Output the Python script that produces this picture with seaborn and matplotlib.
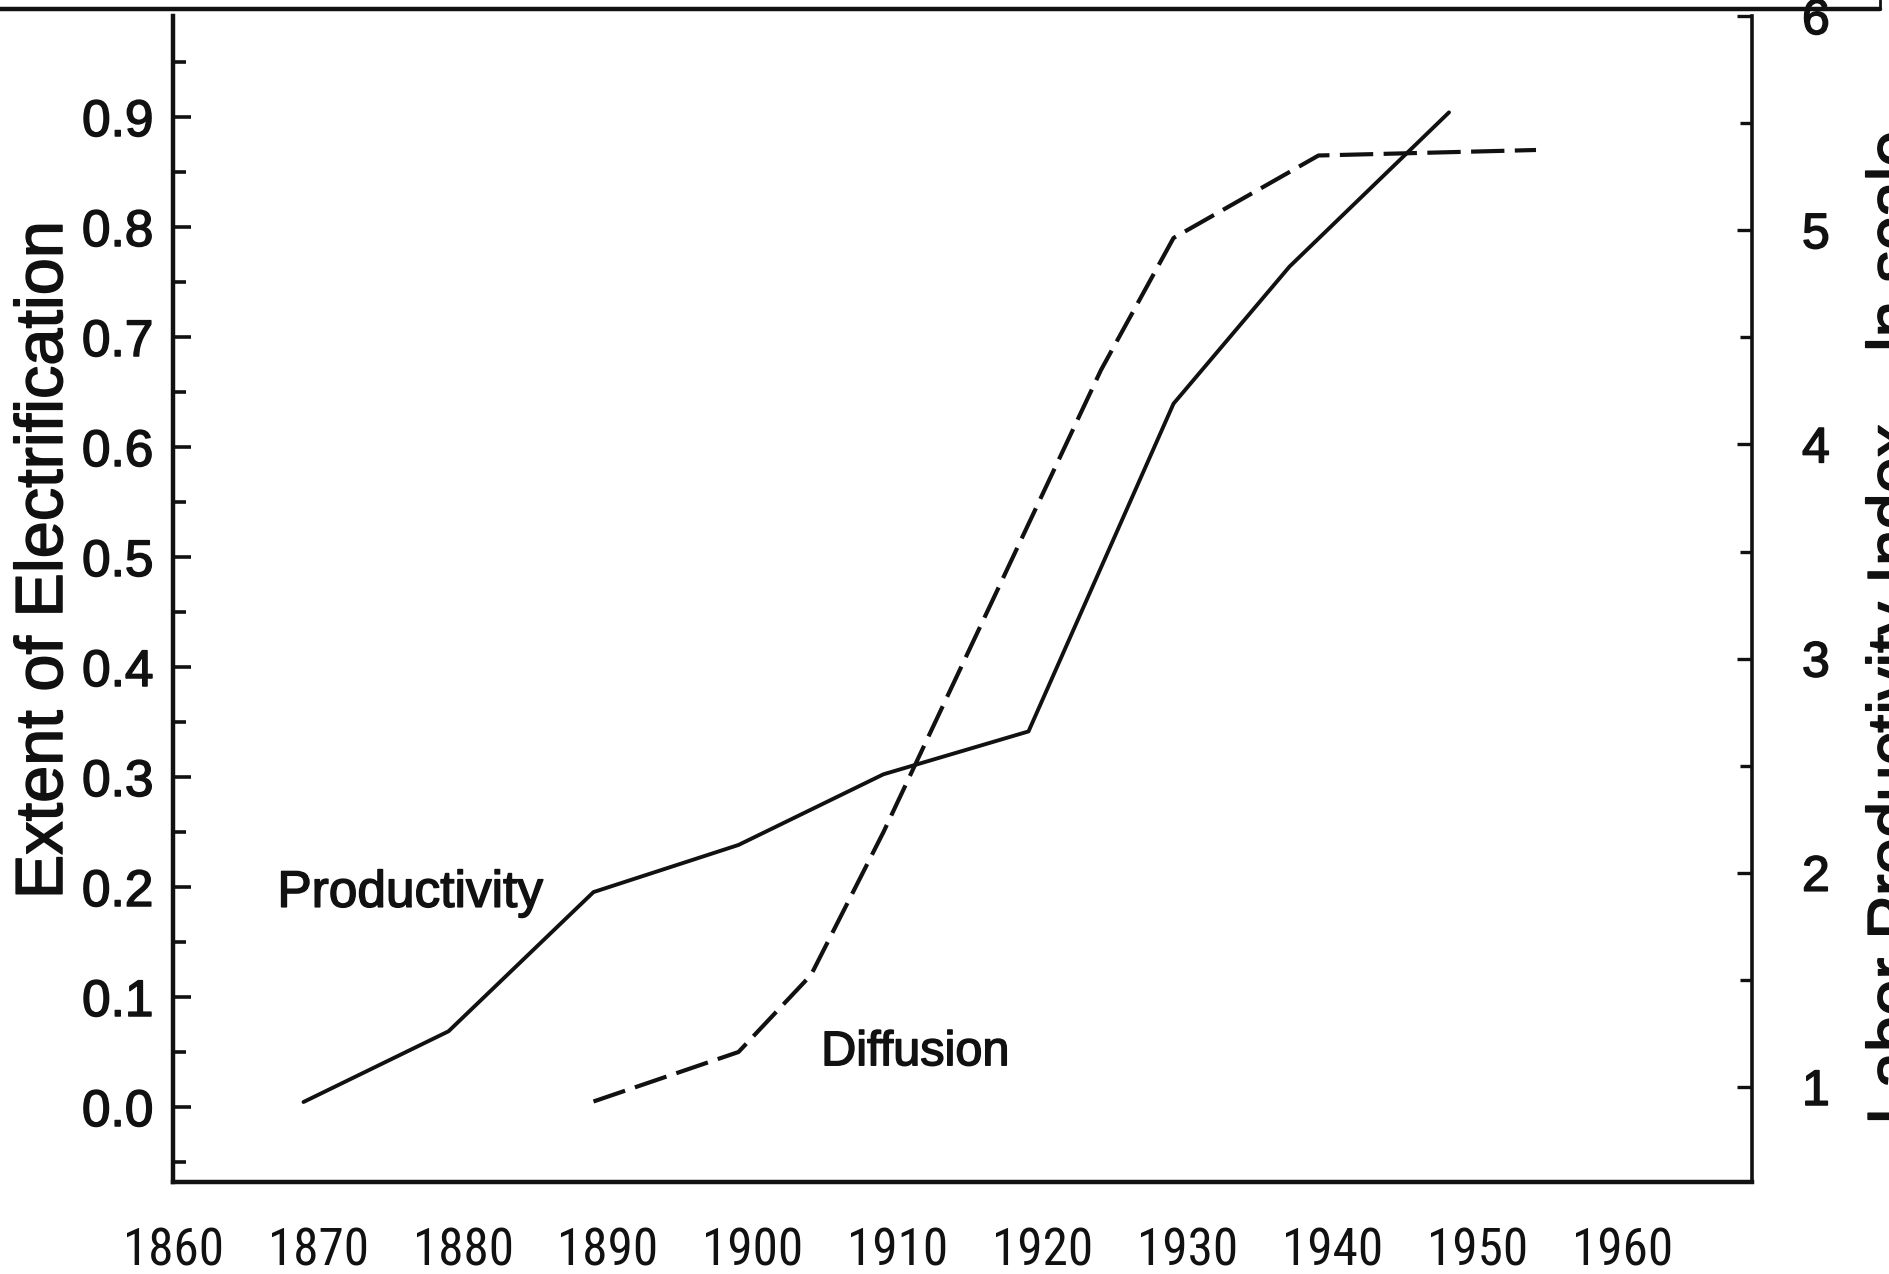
import matplotlib
matplotlib.use("Agg")
import matplotlib.pyplot as plt
import matplotlib.font_manager as fm
import matplotlib.patheffects as pe
from matplotlib.font_manager import FontProperties
from matplotlib.textpath import TextPath
from matplotlib.lines import Line2D
from matplotlib.ticker import FixedLocator
import seaborn as sns

# data
prod_years = [1869, 1879, 1889, 1899, 1909, 1919, 1929, 1937, 1948]
prod_index = [0.93, 1.26, 1.91, 2.13, 2.46, 2.66, 4.19, 4.83, 5.55]   # right axis (ln scale index)

diff_years = [1889, 1899, 1904, 1909, 1914, 1919, 1924, 1929, 1939, 1954]
diff_share = [0.005, 0.05, 0.12, 0.25, 0.39, 0.53, 0.67, 0.79, 0.865, 0.87]  # left axis

x_ticks = list(range(1860, 1961, 10))
left_ticks = [0.0, 0.1, 0.2, 0.3, 0.4, 0.5, 0.6, 0.7, 0.8, 0.9]
right_ticks = [1, 2, 3, 4, 5, 6]

sns.set_theme(style="white")
plt.rcParams["font.family"] = ["Liberation Sans", "DejaVu Sans"]


# the year labels are set in a condensed face in the original
def condensed_font():
    wanted = ["Liberation Sans Narrow", "Roboto Condensed", "Arial Narrow",
              "Nimbus Sans Narrow", "Noto Sans Condensed", "Open Sans Condensed"]
    for name in wanted:
        for f in fm.fontManager.ttflist:
            if f.name == name and f.weight in (400, "normal", "regular") and f.style == "normal":
                return FontProperties(fname=f.fname)
    for f in fm.fontManager.ttflist:
        if f.stretch in ("condensed", "semi-condensed") and f.style == "normal" \
                and f.weight in (400, "normal", "regular") and "Mono" not in f.name:
            return FontProperties(fname=f.fname)
    return FontProperties(family="Liberation Sans")


cond = condensed_font()
ext = TextPath((0, 0), "1860", size=100, prop=cond).get_extents()
year_size = min(100 * 67.7 / ext.width, 100 * 31.0 / ext.height)

W, H = 1889, 1274
fig = plt.figure(figsize=(W / 100, H / 100), dpi=100)
fig.patch.set_facecolor("white")

ink = "#111111"
heavy = [pe.withStroke(linewidth=1.1, foreground=ink)]

# axes box in pixels of the reference
L, R, T, B = 173, 1752, 16, 1182
ax = fig.add_axes([L / W, 1 - B / H, (R - L) / W, (B - T) / H])
ax2 = ax.twinx()

sns.lineplot(x=diff_years, y=diff_share, ax=ax, color=ink, linewidth=3.0,
             linestyle=(0, (8.0, 2.5)))
sns.lineplot(x=prod_years, y=prod_index, ax=ax2, color=ink, linewidth=2.8)

ax.set_xlim(1860, 1860 + (R - L) / 14.5)
ax.set_ylim((1107 - B) / 1100, (1107 - T) / 1100)
ax2.set_ylim(1 - (B - 1087) / 214.2, 6.0)

# spines
for s in ["top", "right"]:
    ax.spines[s].set_visible(False)
for s in ["top", "left", "bottom"]:
    ax2.spines[s].set_visible(False)
for s in ["left", "bottom"]:
    ax.spines[s].set_color(ink)
    ax.spines[s].set_linewidth(3.2)
ax2.spines["right"].set_color(ink)
ax2.spines["right"].set_linewidth(2.6)

# ticks
ax.xaxis.set_major_locator(FixedLocator(x_ticks))
ax.xaxis.set_minor_locator(FixedLocator(list(range(1865, 1966, 10))))
ax.yaxis.set_major_locator(FixedLocator(left_ticks))
ax.yaxis.set_minor_locator(FixedLocator([-0.05] + [t + 0.05 for t in left_ticks]))
ax2.yaxis.set_major_locator(FixedLocator(right_ticks))
ax2.yaxis.set_minor_locator(FixedLocator([1.5, 2.5, 3.5, 4.5, 5.5]))

ax.set_xticklabels([str(t) for t in x_ticks])
ax.set_yticklabels([f"{t:.1f}" for t in left_ticks])
ax2.set_yticklabels([str(t) for t in right_ticks])

ax.tick_params(axis="x", which="major", direction="in", length=15, width=2.4,
               color=ink, pad=32, labelcolor=ink)
ax.tick_params(axis="x", which="minor", direction="in", length=10, width=2.4, color=ink)
ax.tick_params(axis="y", which="major", direction="in", length=13, width=2.6,
               color=ink, pad=14, labelsize=37, labelcolor=ink)
ax.tick_params(axis="y", which="minor", direction="in", length=9, width=2.6, color=ink)
ax2.tick_params(axis="y", which="major", direction="in", length=11, width=2.4,
                color=ink, pad=36, labelsize=36, labelcolor=ink)
ax2.tick_params(axis="y", which="minor", direction="in", length=9, width=2.4, color=ink)

for lab in ax.get_xticklabels():
    lab.set_fontproperties(cond)
    lab.set_fontsize(year_size)
for lab in ax.get_yticklabels() + ax2.get_yticklabels():
    lab.set_path_effects(heavy)

ax.set_xlabel("")
ax.set_ylabel("")
ax2.set_ylabel("")

# in-plot labels
ax.text(1867.2, 0.182, "Productivity", fontsize=37, color=ink, ha="left",
        va="baseline", path_effects=heavy)
ax.text(1904.7, 0.038, "Diffusion", fontsize=35, color=ink, ha="left",
        va="baseline", path_effects=heavy)

# axis titles
fig.text(45 / W, 1 - 560 / H, "Extent of Electrification", rotation=90,
         ha="center", va="center", fontsize=48, color=ink, path_effects=heavy)
fig.text(1866 / W, 1 - 628 / H, "Labor Productivity Index \u2013 ln scale", rotation=90,
         ha="left", va="center", fontsize=47, color=ink, path_effects=heavy)

# frame edge left over from the scan
y_line = 1 - 9 / H
x_line = 1880 / W
fig.add_artist(Line2D([0, x_line], [y_line, y_line], transform=fig.transFigure,
                      color=ink, linewidth=3.2))
fig.add_artist(Line2D([x_line, x_line], [y_line, 1.0], transform=fig.transFigure,
                      color=ink, linewidth=2.0))

fig.savefig("out.png", dpi=100, facecolor="white")
